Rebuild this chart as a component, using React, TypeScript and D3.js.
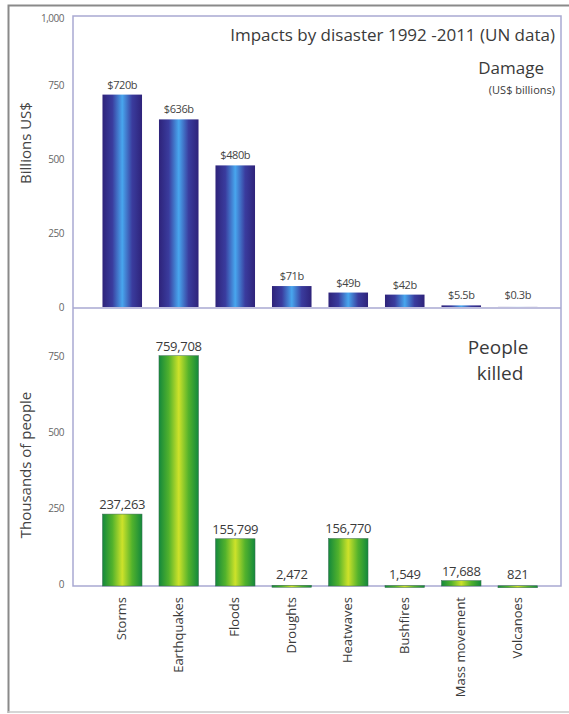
import React from 'react';
import { scaleBand, scaleLinear } from 'd3';

const categories = ['Storms', 'Earthquakes', 'Floods', 'Droughts', 'Heatwaves', 'Bushfires', 'Mass movement', 'Volcanoes'];
const damage = [720, 636, 480, 71, 49, 42, 5.5, 0.3];
const damageLabels = ['$720b', '$636b', '$480b', '$71b', '$49b', '$42b', '$5.5b', '$0.3b'];
const killed = [237263, 759708, 155799, 2472, 156770, 1549, 17688, 821];
const damageTicks = [0, 250, 500, 750, 1000];
const killedTicks = [0, 250, 500, 750];

const font = '"Open Sans", "Noto Sans", sans-serif';
const frame = '#a9a9d2';

function App() {
  const left = 73;
  const right = 561;
  const top = 16;
  const mid = 308;
  const bottom = 586;

  const x = scaleBand<string>().domain(categories).range([94, 546]).paddingInner(0.3).paddingOuter(0.15);
  const yTop = scaleLinear().domain([0, 1000]).range([mid - 1, 12]);
  const yBot = scaleLinear().domain([0, 917]).range([bottom, mid]);

  return (
    <svg width={569} height={714} style={{ position: 'absolute', left: 0, top: 0 }}>
      <defs>
        <linearGradient id="blue" x1="0" x2="1" y1="0" y2="0">
          <stop offset="0" stopColor="#2e237a" />
          <stop offset="0.25" stopColor="#3a3c9e" />
          <stop offset="0.5" stopColor="#48a6ee" />
          <stop offset="0.75" stopColor="#3a3c9e" />
          <stop offset="1" stopColor="#2e237a" />
        </linearGradient>
        <linearGradient id="green" x1="0" x2="1" y1="0" y2="0">
          <stop offset="0" stopColor="#14893c" />
          <stop offset="0.25" stopColor="#52b22c" />
          <stop offset="0.5" stopColor="#cde22a" />
          <stop offset="0.75" stopColor="#52b22c" />
          <stop offset="1" stopColor="#14893c" />
        </linearGradient>
      </defs>
      <rect width={569} height={714} fill="#fff" />
      {/* outer border */}
      <path d="M8.5,713 V5.5 H569" fill="none" stroke="#8a8a8a" strokeWidth={2} />
      <path d="M8,712 H569" fill="none" stroke="#c8c8c8" strokeWidth={1.5} />

      {/* plot frame */}
      <rect x={left} y={top} width={right - left} height={bottom - top} fill="none" stroke={frame} strokeWidth={1.5} />
      <line x1={left} x2={right} y1={mid} y2={mid} stroke={frame} strokeWidth={1.5} />

      <text x={555} y={41} textAnchor="end" fontFamily={font} fontSize={17} fill="#3a3a3a">
        Impacts by disaster 1992 -2011 (UN data)
      </text>
      <text x={544} y={74} textAnchor="end" fontFamily={font} fontSize={17} fill="#3a3a3a">Damage</text>
      <text x={555} y={94} textAnchor="end" fontFamily={font} fontSize={11} fill="#3a3a3a">(US$ billions)</text>
      <text x={498} y={354} textAnchor="middle" fontFamily={font} fontSize={19} fill="#3a3a3a">People</text>
      <text x={500} y={380} textAnchor="middle" fontFamily={font} fontSize={19} fill="#3a3a3a">killed</text>

      {/* axis titles */}
      <text transform="translate(31,143) rotate(-90)" textAnchor="middle" fontFamily={font} fontSize={15} fill="#444">
        Billions US$
      </text>
      <text transform="translate(31,465) rotate(-90)" textAnchor="middle" fontFamily={font} fontSize={15} fill="#444">
        Thousands of people
      </text>

      {/* tick labels */}
      {damageTicks.map((t) => (
        <text key={'d' + t} x={64} y={yTop(t) + (t === 1000 ? 6 : 0)} dy="0.35em" textAnchor="end" fontFamily={font} fontSize={10} fill="#666" letterSpacing={-0.5}>
          {t.toLocaleString('en-US')}
        </text>
      ))}
      {killedTicks.map((t) => (
        <text key={'k' + t} x={64} y={yBot(t) - 2} dy="0.35em" textAnchor="end" fontFamily={font} fontSize={10} fill="#666" letterSpacing={-0.5}>
          {t}
        </text>
      ))}

      {/* damage bars */}
      {categories.map((c, i) => (
        <g key={'db' + c}>
          <rect x={x(c)} y={yTop(damage[i])} width={x.bandwidth()} height={yTop(0) - yTop(damage[i])} fill="url(#blue)" />
          <text x={(x(c) ?? 0) + x.bandwidth() / 2} y={Math.min(yTop(damage[i]), yTop(0) - 2) - 6} textAnchor="middle" fontFamily={font} fontSize={11} fill="#444" letterSpacing={-0.4}>
            {damageLabels[i]}
          </text>
        </g>
      ))}

      {/* killed bars */}
      {categories.map((c, i) => (
        <g key={'kb' + c}>
          <rect x={x(c)} y={yBot(killed[i] / 1000)} width={x.bandwidth()} height={Math.max(2, yBot(0) - yBot(killed[i] / 1000))} fill="url(#green)" stroke="#3c6a52" strokeWidth={0.5} />
          <text x={(x(c) ?? 0) + x.bandwidth() / 2} y={Math.min(yBot(killed[i] / 1000), yBot(0) - 2) - 5} textAnchor="middle" fontFamily={font} fontSize={13} fill="#3a3a3a" letterSpacing={-0.3}>
            {killed[i].toLocaleString('en-US')}
          </text>
        </g>
      ))}

      {/* category labels */}
      {categories.map((c) => (
        <text key={'c' + c} transform={`translate(${(x(c) ?? 0) + x.bandwidth() / 2 + 4},597) rotate(-90)`} textAnchor="end" fontFamily={font} fontSize={13} fill="#3a3a3a">
          {c}
        </text>
      ))}
    </svg>
  );
}

export default App;
